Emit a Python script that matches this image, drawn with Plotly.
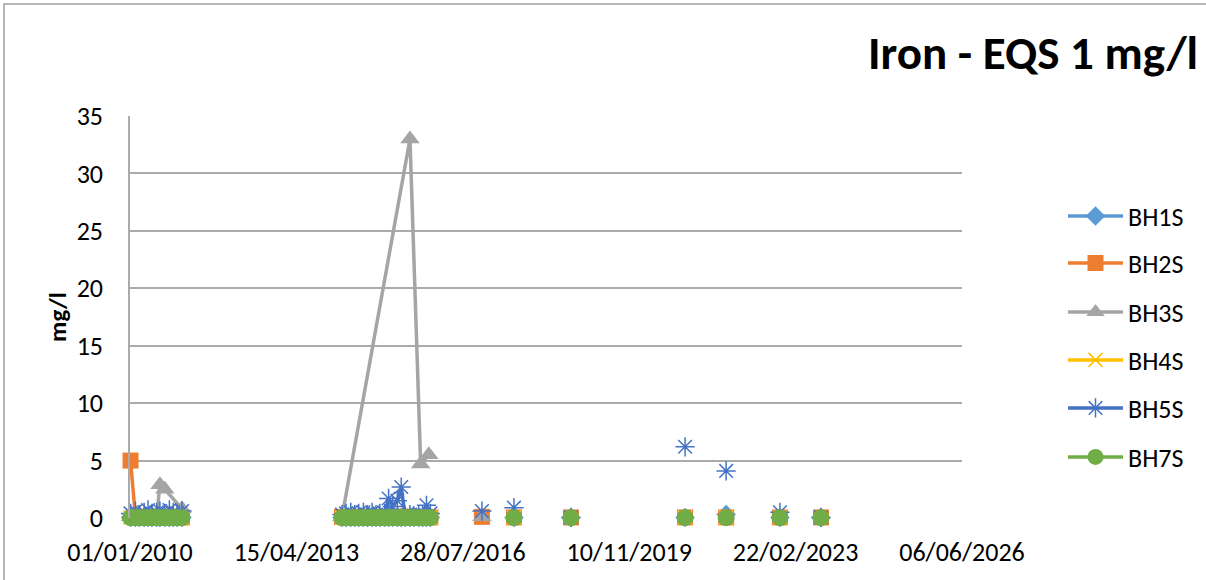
import plotly.graph_objects as go

# sampling dates, campaign id (lines break between campaigns)
dates = [
    "2010-01-05", "2010-02-09", "2010-03-09", "2010-04-13", "2010-05-11", "2010-06-08",
    "2010-07-13", "2010-08-05", "2010-09-09", "2010-10-12", "2010-11-09", "2010-12-07",
    "2011-01-11",
    "2014-03-10", "2014-04-08", "2014-05-12", "2014-06-09", "2014-07-08", "2014-08-11",
    "2014-09-09", "2014-10-13", "2014-11-10", "2014-12-08", "2015-01-12", "2015-02-09",
    "2015-03-09", "2015-04-13", "2015-05-11", "2015-06-08", "2015-07-13", "2015-08-10",
    "2015-09-14", "2015-09-28", "2015-10-12", "2015-11-09", "2015-11-26", "2015-12-07",
    "2016-12-13", "2017-08-01", "2018-09-16", "2020-12-17", "2021-10-09", "2022-11-01",
    "2023-08-24",
]
campaign = [1] * 13 + [2] * 24 + [3, 4, 5, 6, 7, 8, 9]

bh1s = [0.05] * 13 + [0.05] * 19 + [None, 0.05, 0.05, None, 0.05] + \
       [None, 0.05, 0.05, 0.05, 0.3, 0.05, 0.05]
bh2s = [5.0, 0.1, 0.1, 0.05, 0.1, 0.1, 0.05, 0.1, 0.1, 0.05, 0.1, 0.1, 0.05] + \
       [0.1, 0.05, 0.1, 0.05, 0.1, 0.05, 0.1, 0.05, 0.1, 0.05, 0.1, 0.05, 0.1, 0.05,
        0.1, 0.05, 0.1, 0.05, 0.1, None, 0.05, 0.1, None, 0.05] + \
       [0.1, 0.05, 0.05, 0.05, 0.05, 0.05, 0.05]
bh3s = [0.1, 0.1, 0.2, 0.1, 0.1, 0.1, 0.2, 2.9, 2.5, None, None, None, 0.8] + \
       [0.1, None, None, None, None, None, None, None, None, None, None, None, None,
        None, None, None, 33.0, None, None, 4.7, None, None, 5.5, None] + \
       [0.1, None, None, None, None, None, None]
bh4s = [0.05] * 13 + [0.05] * 19 + [None, 0.05, 0.05, None, 0.05] + \
       [None, 0.05, 0.05, 0.05, 0.05, 0.05, 0.05]
bh5s = [0.4, 0.6, 0.3, 0.5, 0.7, 0.4, 0.5, 0.6, 0.4, 0.7, 0.5, 0.4, 0.6] + \
       [0.3, 0.4, 0.5, 0.3, 0.4, 0.5, 0.3, 0.5, 0.3, 0.4, 0.4, 1.7, 1.0, 1.5,
        2.7, 0.2, 0.3, 0.2, 0.3, None, 0.2, 1.1, None, 0.4] + \
       [0.6, 0.9, 0.05, 6.2, 4.1, 0.5, 0.05]
bh7s = [0.02] * 13 + [0.02] * 19 + [None, 0.02, 0.02, None, 0.02] + \
       [None, 0.02, 0.02, 0.02, 0.02, 0.02, 0.02]

x_ticks = ["2010-01-01", "2013-04-15", "2016-07-28", "2019-11-10", "2023-02-22", "2026-06-06"]
x_labels = ["01/01/2010", "15/04/2013", "28/07/2016", "10/11/2019", "22/02/2023", "06/06/2026"]

FONT = "Carlito, Lato, sans-serif"


def build(values):
    xs, ys, prev = [], [], None
    for d, c, v in zip(dates, campaign, values):
        if v is None:
            continue
        if prev is not None and c != prev:
            xs.append(None)
            ys.append(None)
        xs.append(d)
        ys.append(v)
        prev = c
    return xs, ys


series = [
    ("BH1S", bh1s, "#5B9BD5", dict(symbol="diamond", size=15)),
    ("BH2S", bh2s, "#ED7D31", dict(symbol="square", size=16)),
    ("BH3S", bh3s, "#A5A5A5", dict(symbol="triangle-up", size=17)),
    ("BH4S", bh4s, "#FFC000", dict(symbol="x-thin-open", size=14, line=dict(width=1.5, color="#FFC000"))),
    ("BH5S", bh5s, "#4472C4", dict(symbol="asterisk-open", size=16, line=dict(width=1.5, color="#4472C4"))),
    ("BH7S", bh7s, "#70AD47", dict(symbol="circle", size=17)),
]

legend_y = [216, 263, 312, 360, 408, 457]

fig = go.Figure()
layout_legends = {}
for i, (name, vals, color, marker) in enumerate(series):
    xs, ys = build(vals)
    key = "legend" if i == 0 else f"legend{i + 1}"
    fig.add_trace(go.Scatter(
        x=xs, y=ys, name=name, mode="lines+markers",
        line=dict(color=color, width=3.5),
        marker=dict(color=color, **marker),
        connectgaps=False, cliponaxis=False, legend=key,
    ))
    layout_legends[key] = dict(
        x=(1063 - 130) / 832, xanchor="left",
        y=(518 - legend_y[i]) / 402, yanchor="middle",
        font=dict(family=FONT, size=26, color="#000000"),
        itemwidth=55, bgcolor="rgba(0,0,0,0)", borderwidth=0,
    )

fig.update_layout(
    width=1206, height=580,
    margin=dict(l=130, r=244, t=116, b=62),
    paper_bgcolor="white", plot_bgcolor="white",
    showlegend=True,
    title=dict(text="<b>Iron - EQS 1 mg/l</b>", x=0.9935, xanchor="right", xref="container",
               y=1 - 53 / 580, yanchor="middle", yref="container",
               font=dict(family=FONT, size=47, color="#000000")),
    font=dict(family=FONT, color="#000000"),
    **layout_legends,
)

fig.update_xaxes(
    type="date", range=["2010-01-01", "2026-06-06"],
    tickvals=x_ticks, ticktext=x_labels, tickangle=0,
    showgrid=False, zeroline=False, showline=False,
    ticks="", ticklabelstandoff=16,
    tickfont=dict(family=FONT, size=26, color="#000000"),
)
fig.update_yaxes(
    range=[0, 35], dtick=5, showgrid=True, gridcolor="#ABABAB", gridwidth=1.5,
    zeroline=False, showline=True, linecolor="#ABABAB", linewidth=1.5,
    ticks="", ticklabelstandoff=20,
    tickfont=dict(family=FONT, size=26, color="#000000"),
    title=dict(text="<b>mg/l</b>", font=dict(family=FONT, size=25, color="#000000"), standoff=3),
)

# outer chart-area border (cropped at top/left)
fig.add_shape(type="rect", xref="paper", yref="paper",
              x0=(4 - 130) / 832, x1=1.5, y0=-0.5, y1=(518 - 4) / 402,
              line=dict(color="#A0A0A0", width=1.5), layer="below")

fig.write_html(
    "out.html",
    config={"displayModeBar": False},
    post_script="document.body.style.margin='0';document.body.style.overflow='hidden';",
)
